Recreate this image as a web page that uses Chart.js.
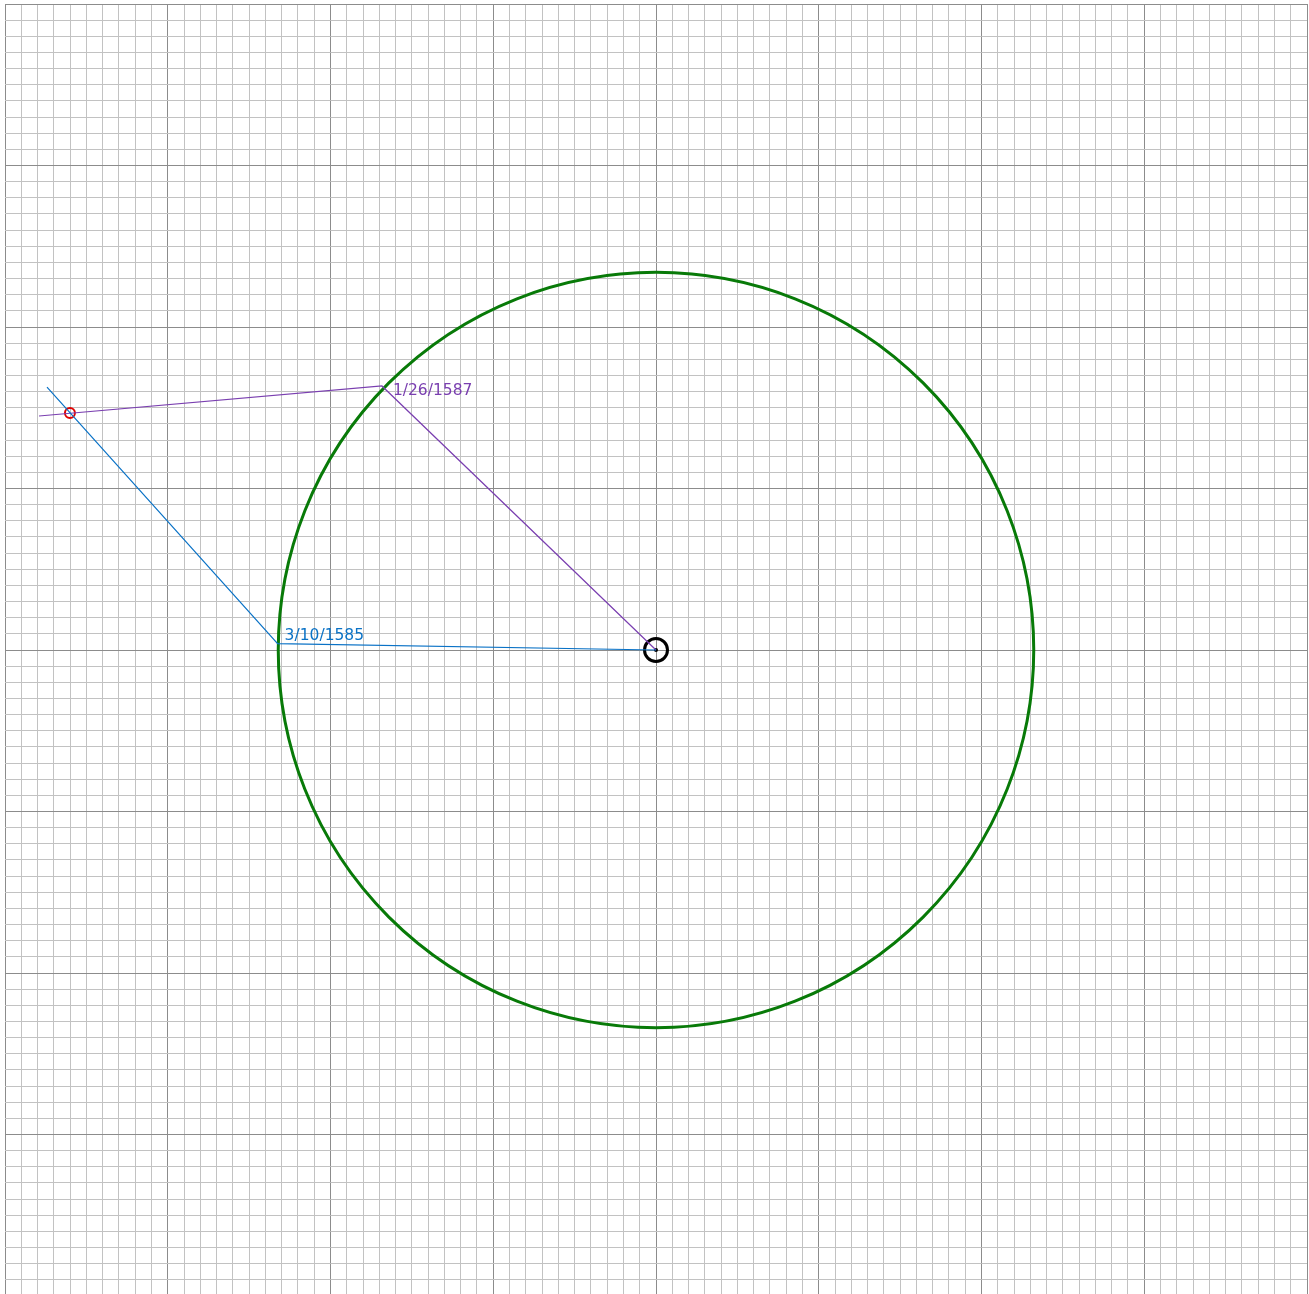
<!DOCTYPE html>
<html>
<head>
<meta charset="utf-8">
<script src="https://cdn.jsdelivr.net/npm/chart.js@4.4.1/dist/chart.umd.min.js"></script>
<style>
html,body{margin:0;padding:0;background:#fff;overflow:hidden;}
#wrap{width:1309px;height:1300px;position:relative;}
</style>
</head>
<body>
<div id="wrap"><canvas id="c" width="1309" height="1300"></canvas></div>
<script>
// ---- data (plot units) ----
const sun = [0, 0];
const orbitRadius = 2.33;
const sightLabels = ["3/10/1585", "1/26/1587"];
const earthX = [-2.325, -1.684];
const earthY = [0.040, 1.635];
const sightEndX = [-3.742, -3.791];
const sightEndY = [1.628, 1.449];
const marsPoint = [-3.601, 1.4675];
const axisMin = -4, axisMax = 4, minorStep = 0.1;

const sightColors = ["#0a72c6", "#7a3fb0"];

function sightData(i) {
  return [
    {x: sun[0], y: sun[1]},
    {x: earthX[i], y: earthY[i]},
    {x: sightEndX[i], y: sightEndY[i]}
  ];
}

const gridColor = (ctx) => {
  const v = ctx.tick ? ctx.tick.value : 0;
  const k = Math.round(v / minorStep);
  return (k % 10 === 0) ? '#8c8c8c' : '#c2c2c2';
};

const orbitPlugin = {
  id: 'orbit',
  beforeDatasetsDraw(chart) {
    const {ctx, scales:{x, y}} = chart;
    const cx = x.getPixelForValue(sun[0]), cy = y.getPixelForValue(sun[1]);
    const rx = Math.abs(x.getPixelForValue(sun[0] + orbitRadius) - cx);
    const ry = Math.abs(y.getPixelForValue(sun[1] + orbitRadius) - cy);
    ctx.save();
    ctx.beginPath();
    ctx.ellipse(cx, cy, (rx+ry)/2, (rx+ry)/2, 0, 0, Math.PI*2);
    ctx.strokeStyle = '#087a08';
    ctx.lineWidth = 3;
    ctx.stroke();
    ctx.restore();
  }
};

const labelPlugin = {
  id: 'labels',
  afterDatasetsDraw(chart) {
    const {ctx, scales:{x, y}} = chart;
    ctx.save();
    ctx.font = '15.5px "DejaVu Sans", sans-serif';
    ctx.textAlign = 'left';
    const offs = [[7, -4], [11, 9]];
    for (let i = 0; i < sightLabels.length; i++) {
      const px = x.getPixelForValue(earthX[i]), py = y.getPixelForValue(earthY[i]);
      ctx.fillStyle = sightColors[i];
      ctx.textBaseline = 'alphabetic';
      ctx.fillText(sightLabels[i], px + offs[i][0], py + offs[i][1]);
    }
    ctx.restore();
  }
};

new Chart(document.getElementById('c'), {
  type: 'scatter',
  data: {
    datasets: [
      {data: sightData(0), showLine: true, borderColor: sightColors[0], borderWidth: 1.2, pointRadius: 0, tension: 0},
      {data: sightData(1), showLine: true, borderColor: sightColors[1], borderWidth: 1.2, pointRadius: 0, tension: 0},
      {data: [{x: marsPoint[0], y: marsPoint[1]}], pointRadius: 5, pointBorderWidth: 2, borderColor: '#e00000', backgroundColor: 'rgba(0,0,0,0)'},
      {data: [{x: sun[0], y: sun[1]}], pointRadius: 11.5, pointBorderWidth: 3, borderColor: '#000', backgroundColor: 'rgba(0,0,0,0)'},
      {data: [{x: sun[0], y: sun[1]}], pointRadius: 2, pointBorderWidth: 0, borderColor: '#000', backgroundColor: '#000'}
    ]
  },
  options: {
    responsive: false,
    animation: false,
    events: [],
    layout: {autoPadding: false, padding: {left: 5, right: 2, top: 4, bottom: 4}},
    plugins: {legend: {display: false}, tooltip: {enabled: false}},
    scales: {
      x: {
        type: 'linear', min: axisMin, max: axisMax,
        ticks: {display: false, stepSize: minorStep},
        grid: {color: gridColor, lineWidth: 1, drawTicks: false},
        border: {display: false}
      },
      y: {
        type: 'linear', min: axisMin, max: axisMax,
        ticks: {display: false, stepSize: minorStep},
        grid: {color: gridColor, lineWidth: 1, drawTicks: false},
        border: {display: false}
      }
    }
  },
  plugins: [orbitPlugin, labelPlugin]
});
</script>
</body>
</html>
